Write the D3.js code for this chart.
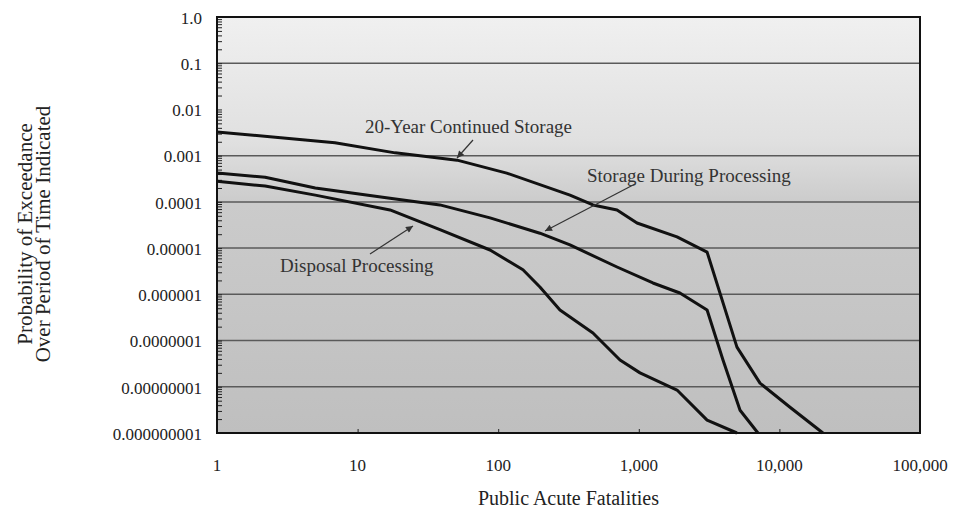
<!DOCTYPE html>
<html>
<head>
<meta charset="utf-8">
<script src="https://cdn.jsdelivr.net/npm/d3@7"></script>
<style>
    body { margin: 0; background: #fff; }
    svg text { font-family: "Liberation Serif", "Times New Roman", serif; }
</style>
</head>
<body>
<div id="chart"></div>
<script>
// exceedance curves
const xTickValues = [1, 10, 100, 1000, 10000, 100000];
const xTickLabels = ['1', '10', '100', '1,000', '10,000', '100,000'];
const yTickValues = [1, 1e-1, 1e-2, 1e-3, 1e-4, 1e-5, 1e-6, 1e-7, 1e-8, 1e-9];
const yTickLabels = ['1.0', '0.1', '0.01', '0.001', '0.0001', '0.00001', '0.000001',
    '0.0000001', '0.00000001', '0.000000001'];
// the 0.01 line does not show in the figure
const gridValues = [1e-1, 1e-3, 1e-4, 1e-5, 1e-6, 1e-7, 1e-8];

const fatalitiesStorage20 = [1, 2.6, 6.9, 18.5, 51, 115, 324, 472, 700, 971, 1870, 3060, 4990, 7280, 11900, 20400];
const probStorage20 = [3.25e-3, 2.5e-3, 1.9e-3, 1.15e-3, 8.0e-4, 4.2e-4, 1.4e-4, 8.6e-5, 6.7e-5, 3.5e-5,
    1.75e-5, 8.2e-6, 7.2e-8, 1.2e-8, 3.6e-9, 1e-9];

const fatalitiesDuring = [1, 2.2, 5, 17, 38.5, 87.5, 198, 324, 700, 1260, 1960, 3060, 3970, 5250, 7040];
const probDuring = [4.2e-4, 3.4e-4, 2.0e-4, 1.2e-4, 8.6e-5, 4.5e-5, 2.1e-5, 1.17e-5, 3.9e-6, 1.76e-6,
    1.07e-6, 4.6e-7, 3.8e-8, 3.1e-9, 1e-9];

const fatalitiesDisposal = [1, 2.2, 5, 17, 38.5, 87.5, 150, 198, 275, 472, 735, 1020, 1870, 3060, 4990];
const probDisposal = [2.8e-4, 2.2e-4, 1.4e-4, 6.7e-5, 2.5e-5, 9.1e-6, 3.4e-6, 1.44e-6, 4.6e-7, 1.46e-7,
    3.8e-8, 2.0e-8, 8.5e-9, 1.9e-9, 1e-9];

const seriesNames = ['20-Year Continued Storage', 'Storage During Processing', 'Disposal Processing'];

const width = 955;
const height = 510;
const plot = { left: 217, top: 17, right: 920, bottom: 433 };

const svg = d3.select('#chart')
    .append('svg')
    .attr('width', width)
    .attr('height', height);

const x = d3.scaleLog().domain([1, 1e5]).range([plot.left, plot.right]);
const y = d3.scaleLog().domain([1e-9, 1]).range([plot.bottom, plot.top]);

const defs = svg.append('defs');

// scanned grey plot area: lighter at the top
const grad = defs.append('linearGradient')
    .attr('id', 'plotFill')
    .attr('x1', 0).attr('y1', 0).attr('x2', 0).attr('y2', 1);
[[0, '#f0f0f0'], [0.3, '#e0e0e0'], [0.45, '#cbcbcb'], [1, '#bfbfbf']].forEach(s => {
    grad.append('stop').attr('offset', s[0]).attr('stop-color', s[1]);
});

defs.append('marker')
    .attr('id', 'arrow')
    .attr('viewBox', '0 -5 10 10')
    .attr('refX', 10)
    .attr('refY', 0)
    .attr('markerWidth', 9)
    .attr('markerHeight', 7)
    .attr('markerUnits', 'userSpaceOnUse')
    .attr('orient', 'auto')
    .append('path')
    .attr('d', 'M0,-5L10,0L0,5Z')
    .attr('fill', '#333');

svg.append('rect')
    .attr('x', plot.left)
    .attr('y', plot.top)
    .attr('width', plot.right - plot.left)
    .attr('height', plot.bottom - plot.top)
    .attr('fill', 'url(#plotFill)');

// horizontal grid
svg.append('g')
    .selectAll('line')
    .data(gridValues)
    .enter().append('line')
    .attr('x1', plot.left)
    .attr('x2', plot.right)
    .attr('y1', d => y(d))
    .attr('y2', d => y(d))
    .attr('stroke', '#5a5a5a')
    .attr('stroke-width', 1.5);

// minor ticks, drawn inside the frame
const yAxis = d3.axisRight(y)
    .ticks(10)
    .tickSize(5)
    .tickFormat('');
svg.append('g')
    .attr('transform', `translate(${plot.left},0)`)
    .call(yAxis)
    .call(g => g.select('.domain').remove())
    .call(g => g.selectAll('line').attr('stroke', '#222'));

const xAxis = d3.axisTop(x)
    .ticks(5)
    .tickSize(4)
    .tickFormat('');
svg.append('g')
    .attr('transform', `translate(0,${plot.bottom})`)
    .call(xAxis)
    .call(g => g.select('.domain').remove())
    .call(g => g.selectAll('line').attr('stroke', '#222'));

// tick labels
svg.append('g')
    .selectAll('text')
    .data(yTickValues)
    .enter().append('text')
    .attr('x', 202)
    .attr('y', d => y(d))
    .attr('dy', '0.4em')
    .attr('text-anchor', 'end')
    .style('font-size', '17px')
    .style('fill', '#222')
    .text((d, i) => yTickLabels[i]);

svg.append('g')
    .selectAll('text')
    .data(xTickValues)
    .enter().append('text')
    .attr('x', d => x(d))
    .attr('y', 471)
    .attr('text-anchor', 'middle')
    .style('font-size', '17px')
    .style('fill', '#222')
    .text((d, i) => xTickLabels[i]);

// curves
const line = d3.line()
    .x(d => x(d[0]))
    .y(d => y(d[1]));

const curves = [
    d3.zip(fatalitiesStorage20, probStorage20),
    d3.zip(fatalitiesDuring, probDuring),
    d3.zip(fatalitiesDisposal, probDisposal)
];

svg.append('g')
    .selectAll('path')
    .data(curves)
    .enter().append('path')
    .attr('d', line)
    .attr('fill', 'none')
    .attr('stroke', '#111')
    .attr('stroke-width', 3)
    .attr('stroke-linejoin', 'round');

// frame
svg.append('rect')
    .attr('x', plot.left)
    .attr('y', plot.top)
    .attr('width', plot.right - plot.left)
    .attr('height', plot.bottom - plot.top)
    .attr('fill', 'none')
    .attr('stroke', '#111')
    .attr('stroke-width', 2);

// labels with leader arrows
const notes = [
    { text: seriesNames[0], tx: 365, ty: 133, from: [473, 140], to: [457, 158] },
    { text: seriesNames[1], tx: 587, ty: 182, from: [635, 184], to: [545, 231] },
    { text: seriesNames[2], tx: 280, ty: 272, from: [370, 254], to: [413, 226] }
];

const note = svg.append('g')
    .selectAll('g')
    .data(notes)
    .enter().append('g');

note.append('line')
    .attr('x1', d => d.from[0])
    .attr('y1', d => d.from[1])
    .attr('x2', d => d.to[0])
    .attr('y2', d => d.to[1])
    .attr('stroke', '#333')
    .attr('stroke-width', 1.2)
    .attr('marker-end', 'url(#arrow)');

note.append('text')
    .attr('x', d => d.tx)
    .attr('y', d => d.ty)
    .style('font-size', '19px')
    .style('fill', '#333')
    .text(d => d.text);

// axis titles
svg.append('text')
    .attr('x', x(316))
    .attr('y', 505)
    .attr('text-anchor', 'middle')
    .style('font-size', '20px')
    .style('fill', '#222')
    .text('Public Acute Fatalities');

const yTitle = svg.append('text')
    .attr('transform', 'translate(32,234) rotate(-90)')
    .attr('text-anchor', 'middle')
    .style('font-size', '21px')
    .style('fill', '#222');
yTitle.append('tspan')
    .attr('x', 0)
    .attr('dy', 0)
    .text('Probability of Exceedance');
yTitle.append('tspan')
    .attr('x', 0)
    .attr('dy', 18)
    .text('Over Period of Time Indicated');
</script>
</body>
</html>
